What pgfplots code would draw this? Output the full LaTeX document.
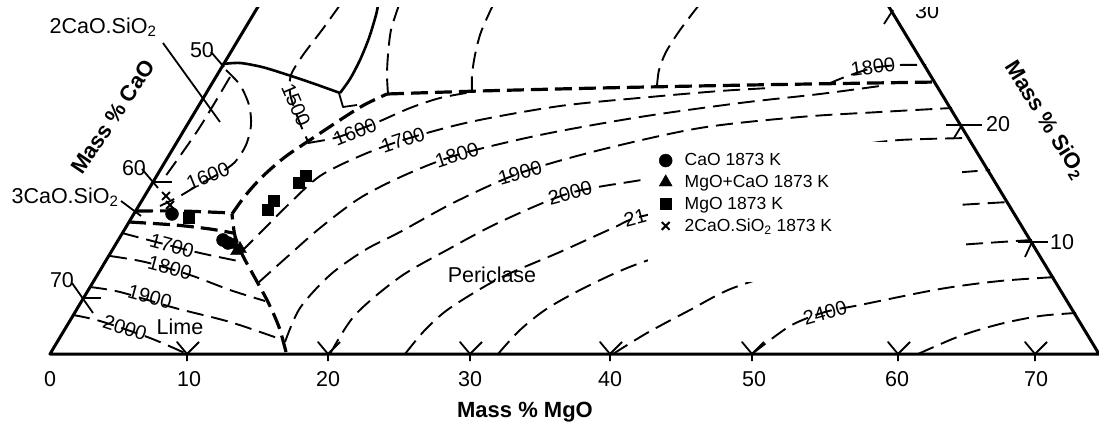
\documentclass[border=0pt]{standalone}
\usepackage{fontspec}
\setmainfont{Liberation Sans}
\usepackage{pgfplots}
\pgfplotsset{compat=1.18}

\newcommand\lbl{\fontsize{21.5}{24}\selectfont}
\newcommand\ttl{\fontsize{22}{25}\selectfont\bfseries}
\newcommand\iso{\fontsize{20}{22}\selectfont}
\newcommand\leg{\fontsize{17.5}{20}\selectfont}

\pgfplotsset{
  edge/.style={line width=3pt, line join=round, forget plot},
  tk/.style={line width=1.8pt, line join=round, forget plot},
  thind/.style={line width=1.9pt, dash pattern=on 17pt off 8pt, smooth, forget plot},
  boldd/.style={line width=3.2pt, dash pattern=on 17pt off 7pt, smooth, forget plot},
  sol/.style={line width=2.6pt, smooth, forget plot},
}

\begin{document}
\begin{tikzpicture}
\useasboundingbox (0,0) rectangle (1099pt,435pt);
\clip (0,0) rectangle (1099pt,427pt);
\begin{axis}[
    at={(0pt,0pt)}, anchor=south west,
    scale only axis, width=1099pt, height=435pt,
    xmin=0, xmax=1099, ymin=0, ymax=435,
    y dir=reverse,
    hide axis, clip=false,
    legend cell align=left,
    legend style={at={(axis cs:659,152)}, anchor=north west, draw=none,
        fill=white, inner sep=0pt, font=\leg, row sep=5pt, column sep=11pt,
        nodes={inner sep=1.5pt}},
]

% triangle edges
\addplot[edge] coordinates {(259,5) (50,354) (1099,354) (886,2)};

% ticks on the bottom edge (MgO)
\addplot[tk] coordinates {(187,361) (187,354) (177,342) (187,354) (199,342)};
\addplot[tk] coordinates {(328,361) (328,354) (318,342) (328,354) (340,342)};
\addplot[tk] coordinates {(470,361) (470,354) (460,342) (470,354) (482,342)};
\addplot[tk] coordinates {(610,361) (610,354) (600,342) (610,354) (622,342)};
\addplot[tk] coordinates {(752,361) (752,354) (742,342) (752,354) (764,342)};
\addplot[tk] coordinates {(898,361) (898,354) (888,342) (898,354) (910,342)};
\addplot[tk] coordinates {(1035,361) (1035,354) (1025,342) (1035,354) (1047,342)};
% ticks on the left edge (CaO)
\addplot[tk] coordinates {(211,52) (224,67)};
\addplot[tk] coordinates {(142,169) (158,188)};
\addplot[tk] coordinates {(153,182) (172,182)};
\addplot[tk] coordinates {(72,283) (93,313)};
\addplot[tk] coordinates {(83,298) (101,298)};
% ticks on the right edge (SiO2)
\addplot[tk] coordinates {(893,10) (884,24)};
\addplot[tk] coordinates {(946,125) (982,125)};
\addplot[tk] coordinates {(962,125) (954,138)};
\addplot[tk] coordinates {(1018,242) (1048,242)};
\addplot[tk] coordinates {(1032,242) (1025,257)};

% compound pointers
\addplot[tk] coordinates {(163,43) (220,122)};
\addplot[tk] coordinates {(121,201) (141,216)};

% solid boundaries
\addplot[sol] coordinates {(223,64) (240,63) (262,67) (285,74) (312,83) (340,93)};
\addplot[sol] coordinates {(340,93) (350,79) (360,60) (369,38) (376,15) (378,5)};
\addplot[tk] coordinates {(339,93) (343,107) (357,105)};

% bold dashed boundaries
\addplot[boldd] coordinates {(387,94) (480,91) (600,88) (750,85) (937,82)};
\addplot[boldd] coordinates {(286,352) (279,327) (268,302) (255,278) (243,256) (235,236) (232,214)};
\addplot[boldd] coordinates {(232,214) (245,196) (262,177) (285,157) (310,140) (340,120) (364,105) (387,94)};
\addplot[boldd] coordinates {(136,211) (180,211) (232,213)};
\addplot[boldd] coordinates {(129,222) (175,225) (210,229) (233,233)};

% isotherms, 2CaO.SiO2 and upper region
\addplot[thind] coordinates {(226,70) (240,85) (249,105) (251,125) (246,145) (235,162) (220,173) (200,184) (180,196) (160,206)};
\addplot[thind] coordinates {(230,77) (214,104) (198,130) (180,156) (162,181)};
\addplot[thind] coordinates {(340,5) (322,30) (303,55) (291,75) (290,93) (296,113) (304,133) (309,143)};
\addplot[thind] coordinates {(399,5) (391,30) (388,55) (387,75) (388,94)};
\addplot[thind] coordinates {(493,5) (481,32) (475,55) (472,75) (472,91)};
\addplot[thind] coordinates {(699,5) (680,30) (666,52) (659,70) (657,86)};
\addplot[thind] coordinates {(828,84) (845,77) (873,68) (900,65) (926,65)};

% isotherms, lime region
\addplot[thind] coordinates {(122,233) (160,243) (200,253) (243,262)};
\addplot[thind] coordinates {(110,256) (145,262) (190,275) (230,290) (265,301)};
\addplot[thind] coordinates {(90,287) (120,292) (175,308) (230,322) (283,340)};
\addplot[thind] coordinates {(73,315) (100,321) (150,338) (187,354)};

% isotherms, periclase region
\addplot[thind] coordinates {(308,143) (335,138) (355,131) (378,122) (410,108) (440,98) (472,92)};
\addplot[thind] coordinates {(241,252) (262,231) (290,203) (320,176) (360,156) (403,140) (470,122) (560,106) (650,97) (720,91) (770,88)};
\addplot[thind] coordinates {(258,283) (287,257) (320,228) (360,198) (405,175) (457,155) (540,135) (640,117) (740,103) (820,94) (880,86)};
\addplot[thind] coordinates {(285,342) (300,308) (330,275) (365,250) (400,232) (455,202) (520,173) (600,150) (700,128) (800,117) (880,112) (952,108)};
\addplot[thind] coordinates {(330,354) (355,315) (400,277) (447,250) (500,222) (570,193) (647,179) (750,160) (850,146) (900,140) (970,138)};
\addplot[thind] coordinates {(405,354) (425,330) (450,308) (500,278) (560,252) (613,228) (643,216) (750,195) (870,180) (990,170)};
\addplot[thind] coordinates {(498,354) (520,330) (548,308) (590,285) (643,262) (740,233) (850,213) (1009,202)};
\addplot[thind] coordinates {(613,354) (647,333) (690,310) (733,288) (800,268) (900,250) (1032,240)};
\addplot[thind] coordinates {(752,354) (790,326) (825,312) (860,305) (940,289) (1000,281) (1056,277)};
\addplot[thind] coordinates {(918,354) (960,336) (1000,324) (1040,316) (1076,313)};

% white ground of the legend, which hides the isotherms behind it
\fill[white] (axis cs:648,142) rectangle (axis cs:962,282);

% measured compositions
\addplot[only marks, mark=*, mark size=6.5pt, black] coordinates {(172,214) (223,240) (228,243)};
\addlegendentry{CaO 1873 K}
\addplot[only marks, mark=triangle*, mark size=7.5pt, black] coordinates {(234,245) (240,249) (237,251)};
\addlegendentry{MgO+CaO 1873 K}
\addplot[only marks, mark=square*, mark size=5.5pt, black] coordinates {(189,218) (268,210) (274,201) (299,183) (306,176)};
\addlegendentry{MgO 1873 K}
\addplot[only marks, mark=x, mark size=5.5pt, line width=2pt, black] coordinates {(166,196) (170,205)};
\addlegendentry{2CaO.SiO\textsubscript{2} 1873 K}

% tick numbers
\node[font=\lbl] at (axis cs:50,379) {0};
\node[font=\lbl] at (axis cs:189,379) {10};
\node[font=\lbl] at (axis cs:328,379) {20};
\node[font=\lbl] at (axis cs:470,379) {30};
\node[font=\lbl] at (axis cs:610,379) {40};
\node[font=\lbl] at (axis cs:754,379) {50};
\node[font=\lbl] at (axis cs:897,379) {60};
\node[font=\lbl] at (axis cs:1036,379) {70};
\node[font=\lbl] at (axis cs:202,50) {50};
\node[font=\lbl] at (axis cs:134,168) {60};
\node[font=\lbl] at (axis cs:62,280) {70};
\node[font=\lbl] at (axis cs:927,11) {30};
\node[font=\lbl] at (axis cs:998,124) {20};
\node[font=\lbl] at (axis cs:1062,242) {10};

% axis titles
\node[font=\ttl] at (axis cs:525,412) {Mass \% MgO};
\node[font=\ttl, rotate=56] at (axis cs:113,117) {Mass \% CaO};
\node[font=\ttl, rotate=-58] at (axis cs:1045,120) {Mass \% SiO\textsubscript{2}};

% phase and compound labels
\node[font=\lbl] at (axis cs:103,27) {2CaO.SiO\textsubscript{2}};
\node[font=\lbl] at (axis cs:65,197) {3CaO.SiO\textsubscript{2}};
\node[font=\lbl] at (axis cs:180,327) {Lime};
\node[font=\lbl] at (axis cs:492,275) {Periclase};

% isotherm labels
\node[font=\iso, inner sep=0pt, rotate=22] at (axis cs:208,176) {1600};
\node[font=\iso, inner sep=0pt, rotate=-67] at (axis cs:296,105) {1500};
\node[font=\iso, inner sep=0pt, rotate=22] at (axis cs:355,132) {1600};
\node[font=\iso, inner sep=0pt, rotate=18] at (axis cs:403,140) {1700};
\node[font=\iso, inner sep=0pt, rotate=18] at (axis cs:457,155) {1800};
\node[font=\iso, inner sep=0pt, rotate=16] at (axis cs:520,173) {1900};
\node[font=\iso, inner sep=0pt, rotate=15] at (axis cs:570,193) {2000};
\node[font=\iso, inner sep=0pt, rotate=15] at (axis cs:635,218) {21};
\node[font=\iso, inner sep=0pt, rotate=16] at (axis cs:825,313) {2400};
\node[font=\iso, inner sep=0pt, rotate=8] at (axis cs:873,67) {1800};
\node[font=\iso, inner sep=0pt, rotate=-15] at (axis cs:172,246) {1700};
\node[font=\iso, inner sep=0pt, rotate=-15] at (axis cs:170,268) {1800};
\node[font=\iso, inner sep=0pt, rotate=-15] at (axis cs:150,297) {1900};
\node[font=\iso, inner sep=0pt, rotate=-18] at (axis cs:125,328) {2000};

\end{axis}
\end{tikzpicture}
\end{document}
